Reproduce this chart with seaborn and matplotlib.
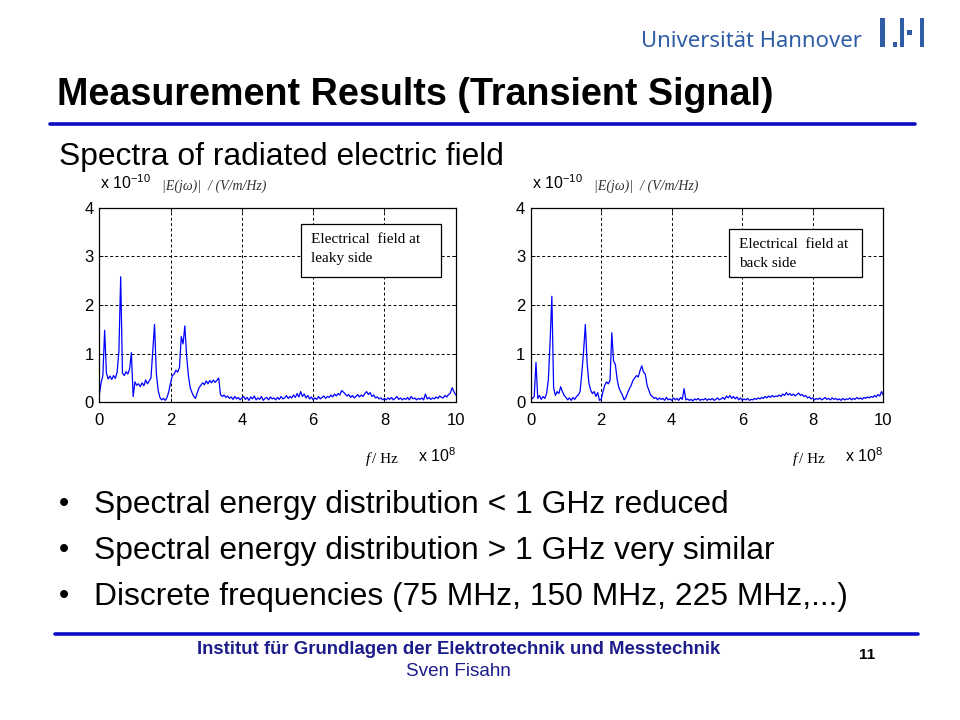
import numpy as np
import matplotlib
matplotlib.use('Agg')
import matplotlib.pyplot as plt
from matplotlib.patches import Rectangle
from matplotlib.lines import Line2D
import seaborn as sns

# Frequency grid of the spectra (unit: 1e8 Hz), sample spacing 0.05
freq_step = 0.05

# |E(jw)| in units of 1e-10 V/m/Hz, one row per 0.5e8 Hz
leaky_side = [
    0.15, 0.40, 0.55, 1.48, 0.60, 0.48, 0.54, 0.47, 0.55, 0.49,
    0.62, 1.05, 2.58, 0.60, 0.55, 0.63, 0.58, 0.68, 1.02, 0.12,
    0.42, 0.35, 0.38, 0.32, 0.40, 0.34, 0.46, 0.38, 0.44, 0.50,
    1.05, 1.60, 0.60, 0.25, 0.10, 0.05, 0.08, 0.04, 0.10, 0.22,
    0.40, 0.55, 0.58, 0.66, 0.62, 0.72, 1.35, 1.20, 1.57, 0.95,
    0.55, 0.30, 0.20, 0.12, 0.08, 0.20, 0.30, 0.35, 0.40, 0.36,
    0.44, 0.38, 0.45, 0.40, 0.46, 0.41, 0.45, 0.50, 0.16, 0.12,
    0.15, 0.10, 0.13, 0.08, 0.11, 0.06, 0.12, 0.07, 0.10, 0.05,
    0.09, 0.12, 0.06, 0.10, 0.04, 0.11, 0.07, 0.13, 0.05, 0.09,
    0.06, 0.12, 0.04, 0.08, 0.10, 0.05, 0.11, 0.07, 0.09, 0.05,
    0.10, 0.06, 0.12, 0.07, 0.09, 0.14, 0.08, 0.12, 0.09, 0.15,
    0.10, 0.18, 0.11, 0.22, 0.12, 0.17, 0.09, 0.14, 0.07, 0.11,
    0.05, 0.09, 0.06, 0.12, 0.07, 0.10, 0.13, 0.08, 0.12, 0.10,
    0.15, 0.11, 0.17, 0.13, 0.18, 0.15, 0.24, 0.21, 0.17, 0.13,
    0.16, 0.10, 0.14, 0.09, 0.12, 0.16, 0.11, 0.15, 0.12, 0.18,
    0.22, 0.16, 0.20, 0.12, 0.15, 0.09, 0.11, 0.07, 0.09, 0.05,
    0.08, 0.05, 0.09, 0.06, 0.10, 0.05, 0.08, 0.12, 0.06, 0.09,
    0.05, 0.08, 0.06, 0.10, 0.05, 0.12, 0.07, 0.09, 0.05, 0.08,
    0.06, 0.09, 0.05, 0.17, 0.07, 0.10, 0.06, 0.09, 0.07, 0.11,
    0.08, 0.13, 0.10, 0.09, 0.14, 0.11, 0.16, 0.19, 0.30, 0.22,
    0.15,
]

back_side = [
    0.05, 0.08, 0.12, 0.82, 0.08, 0.14, 0.06, 0.12, 0.08, 0.18,
    0.45, 1.25, 2.18, 0.30, 0.14, 0.22, 0.18, 0.32, 0.22, 0.14,
    0.10, 0.05, 0.09, 0.04, 0.10, 0.06, 0.12, 0.15, 0.22, 0.60,
    1.05, 1.60, 0.80, 0.40, 0.25, 0.18, 0.22, 0.12, 0.20, 0.04,
    0.06, 0.22, 0.35, 0.42, 0.38, 0.45, 1.43, 0.85, 0.78, 0.48,
    0.30, 0.22, 0.15, 0.05, 0.10, 0.20, 0.28, 0.35, 0.45, 0.50,
    0.55, 0.52, 0.65, 0.75, 0.62, 0.58, 0.35, 0.25, 0.15, 0.12,
    0.08, 0.10, 0.05, 0.09, 0.06, 0.08, 0.04, 0.10, 0.05, 0.07,
    0.04, 0.09, 0.05, 0.08, 0.04, 0.10, 0.06, 0.28, 0.05, 0.07,
    0.04, 0.06, 0.03, 0.07, 0.05, 0.08, 0.04, 0.06, 0.05, 0.08,
    0.04, 0.07, 0.05, 0.08, 0.04, 0.06, 0.09, 0.05, 0.07, 0.10,
    0.06, 0.13, 0.09, 0.14, 0.08, 0.12, 0.07, 0.11, 0.05, 0.09,
    0.04, 0.07, 0.05, 0.08, 0.04, 0.06, 0.05, 0.08, 0.06, 0.09,
    0.07, 0.10, 0.08, 0.12, 0.09, 0.13, 0.10, 0.14, 0.11, 0.13,
    0.12, 0.15, 0.12, 0.17, 0.14, 0.20, 0.15, 0.18, 0.14, 0.17,
    0.13, 0.16, 0.19, 0.14, 0.16, 0.12, 0.14, 0.09, 0.11, 0.07,
    0.09, 0.05, 0.08, 0.06, 0.09, 0.05, 0.07, 0.10, 0.06, 0.08,
    0.05, 0.09, 0.06, 0.08, 0.05, 0.07, 0.04, 0.08, 0.05, 0.07,
    0.06, 0.09, 0.05, 0.08, 0.06, 0.10, 0.07, 0.09, 0.06, 0.10,
    0.08, 0.11, 0.09, 0.12, 0.10, 0.14, 0.11, 0.16, 0.13, 0.22,
    0.15,
]

x_ticks = [0, 2, 4, 6, 8, 10]
y_ticks = [0, 1, 2, 3, 4]
box_labels = [("Electrical  field at", "leaky side"), ("Electrical  field at", "back side")]

bullets = [
    "Spectral energy distribution < 1 GHz reduced",
    "Spectral energy distribution > 1 GHz very similar",
    "Discrete frequencies (75 MHz, 150 MHz, 225 MHz,...)",
]

sns.set_theme(style='white')
plt.rcParams['font.family'] = ['Liberation Sans', 'DejaVu Sans']
plt.rcParams['mathtext.fontset'] = 'custom'
plt.rcParams['mathtext.rm'] = 'Liberation Sans'
plt.rcParams['text.color'] = 'black'
plt.rcParams['xtick.color'] = 'black'
plt.rcParams['ytick.color'] = 'black'

W, H = 960, 720
fig = plt.figure(figsize=(9.6, 7.2), dpi=100)
fig.patch.set_facecolor('white')


def fx(x):
    return x / W


def fy(y):
    return 1 - y / H


SLIDE_BLUE = '#0c0cc4'
NAVY = '#1c1c8a'
LOGO_BLUE = '#2f5da5'

# header logo
fig.text(fx(641), fy(47), 'Universität Hannover', fontsize=15.9, color=LOGO_BLUE,
         family=['Noto Sans', 'DejaVu Sans'], va='baseline', ha='left')
for x0, y0, x1, y1 in [(880, 18, 884.5, 47), (892.5, 41.5, 897, 47),
                       (899.5, 18, 904, 47), (906.5, 30, 911.5, 35),
                       (919.5, 18, 924, 47)]:
    fig.patches.append(Rectangle((fx(x0), fy(y1)), fx(x1 - x0), (y1 - y0) / H,
                                 transform=fig.transFigure, color=LOGO_BLUE, lw=0))

fig.text(fx(56.7), fy(105), 'Measurement Results (Transient Signal)', fontsize=27.2,
         weight='bold', va='baseline')
fig.add_artist(Line2D([fx(50), fx(915)], [fy(124), fy(124)], color=SLIDE_BLUE, lw=2.6,
                      transform=fig.transFigure))
fig.text(fx(59), fy(165), 'Spectra of radiated electric field', fontsize=22.9,
         va='baseline')

# two spectra
panels = [
    dict(data=leaky_side, ax=(99.3, 207.7, 455.7, 402.3), box=(301, 224, 441, 277)),
    dict(data=back_side, ax=(530.7, 207.7, 883.3, 402.3), box=(729, 229, 862, 277)),
]

for p, label in zip(panels, box_labels):
    x0, y0, x1, y1 = p['ax']
    ax = fig.add_axes([fx(x0), fy(y1), (x1 - x0) / W, (y1 - y0) / H])
    freq = np.arange(len(p['data'])) * freq_step
    sns.lineplot(x=freq, y=p['data'], ax=ax, color='#0000ff', lw=0.9)
    ax.set_xlim(0, 10)
    ax.set_ylim(0, 4)
    ax.set_xticks(x_ticks)
    ax.set_yticks(y_ticks)
    ax.set_xticklabels([str(t) for t in x_ticks])
    ax.set_yticklabels([str(t) for t in y_ticks])
    ax.tick_params(axis='both', direction='in', length=3, width=0.6,
                   labelsize=12, top=True, right=True, bottom=True, left=True)
    ax.tick_params(axis='x', pad=8)
    ax.tick_params(axis='y', pad=4)
    ax.grid(True, color='black', linestyle=(0, (3, 2.5)), lw=0.7)
    for s in ax.spines.values():
        s.set_color('black')
        s.set_linewidth(0.9)
    ax.set_facecolor('white')

    # MATLAB style exponent and unit labels
    fig.text(fx(x0 + 1), fy(189), r'x 10$^{-10}$', fontsize=11.5, va='baseline')
    fig.text(fx(x0 + 63), fy(190), '|E(jω)|  / (V/m/Hz)', fontsize=10, color='#333333',
             style='italic', family=['Liberation Serif'], va='baseline')
    fig.text(fx(x1 - 90), fy(463), 'f', fontsize=11, style='italic',
             family=['Liberation Serif'], va='baseline')
    fig.text(fx(x1 - 84), fy(463), '/ Hz', fontsize=11,
             family=['Liberation Serif'], va='baseline')
    fig.text(fx(x1 - 38), fy(462), r'x 10$^{8}$', fontsize=11.5, va='baseline')

    bx0, by0, bx1, by1 = p['box']
    fig.patches.append(Rectangle((fx(bx0), fy(by1)), (bx1 - bx0) / W, (by1 - by0) / H,
                                 transform=fig.transFigure, fill=True, facecolor='white',
                                 edgecolor='black', lw=0.9, zorder=5))
    for k, line in enumerate(label):
        fig.text(fx(bx0 + 10), fy(by0 + 19 + 19 * k), line, fontsize=11,
                 family=['Liberation Serif'], va='baseline', ha='left', zorder=6)

# bullet list
for i, b in enumerate(bullets):
    yb = 513 + i * 46
    fig.text(fx(58.5), fy(yb - 1), '•', fontsize=21, va='baseline')
    fig.text(fx(94.3), fy(yb), b, fontsize=22.9, va='baseline')

# footer
fig.add_artist(Line2D([fx(55), fx(918)], [fy(634), fy(634)], color=SLIDE_BLUE, lw=2.6,
                      transform=fig.transFigure))
fig.text(fx(459), fy(650), 'Institut für Grundlagen der Elektrotechnik und Messtechnik',
         fontsize=13.4, weight='bold', color=NAVY, ha='center', va='center')
fig.text(fx(458), fy(672), 'Sven Fisahn', fontsize=13.6, color=NAVY, ha='center', va='center')
fig.text(fx(867), fy(655), '11', fontsize=11, weight='bold', ha='center', va='center')

fig.savefig('out.png', dpi=100)
